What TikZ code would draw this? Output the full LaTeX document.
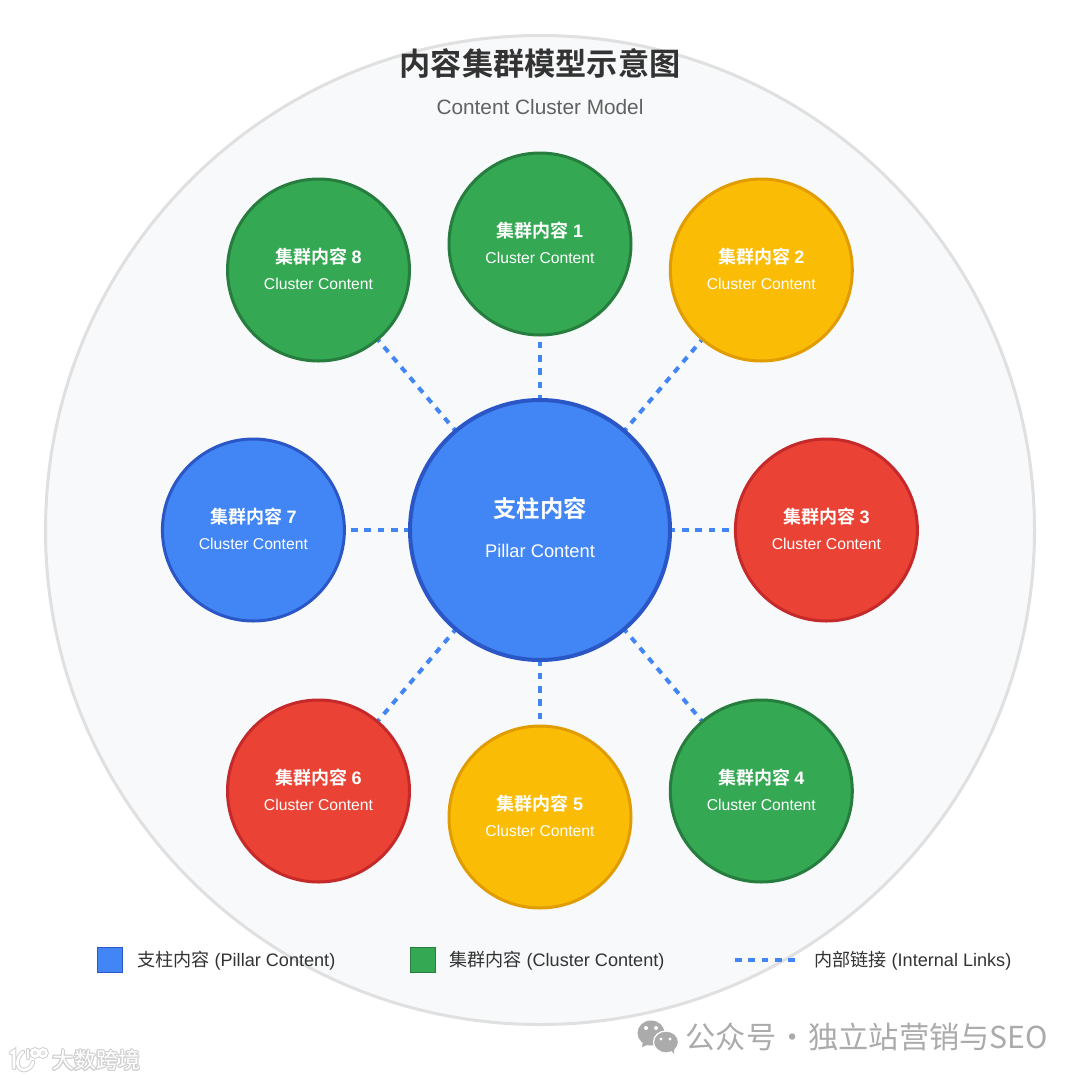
\documentclass[tikz,border=0pt]{standalone}
\usepackage{fontspec}
\usepackage[copies]{contour}
\setmainfont{Liberation Sans}
\newfontfamily\cjk[BoldFont={Noto Sans CJK SC Bold}]{Noto Sans CJK SC}
\newcommand{\zh}[1]{{\cjk #1}}
\newcommand{\zhb}[1]{{\cjk\bfseries #1}}
\newcommand{\pxfont}[2]{\fontsize{#1}{#2}\selectfont}
\definecolor{blueF}{HTML}{4285F4}\definecolor{blueS}{HTML}{2A56C6}
\definecolor{greenF}{HTML}{34A853}\definecolor{greenS}{HTML}{267D3E}
\definecolor{yellowF}{HTML}{FBBC05}\definecolor{yellowS}{HTML}{E09C00}
\definecolor{redF}{HTML}{EA4335}\definecolor{redS}{HTML}{C5292A}
\definecolor{halo}{HTML}{D2D2D2}\definecolor{wm}{HTML}{ABABAB}
\definecolor{ringF}{HTML}{F8F9FA}\definecolor{ringS}{HTML}{E0E0E0}
\tikzset{
  cluster/.style={circle,minimum size=182pt,inner sep=0pt,outer sep=0pt,line width=3pt,draw=#1S,fill=#1F,text=white,align=center,font=\pxfont{15.7}{26}},
  pillar/.style={circle,minimum size=260pt,inner sep=0pt,outer sep=0pt,line width=4pt,draw=blueS,fill=blueF,text=white,align=center,font=\pxfont{18.3}{40}},
  linkline/.style={draw=blueF,line width=4pt,dash pattern=on 6.67pt off 6.67pt},
  legendbox/.style={minimum size=25pt,inner sep=0pt,outer sep=0pt,line width=1.5pt,draw=#1S,fill=#1F},
  legendtext/.style={anchor=west,inner sep=0pt,text=black!80,font=\pxfont{18.1}{22}},
  logostroke/.style={line width=2.6pt,draw=white,line cap=round},
  logohalo/.style={line width=4.6pt,draw=halo,line cap=round}
}
\newcommand{\clabel}[1]{\zhb{\pxfont{18}{26}集群内容} {\pxfont{18}{26}\bfseries #1}\\Cluster Content\\[-24pt]}
\pgfdeclarelayer{bg}\pgfsetlayers{bg,main}
\begin{document}
\begin{tikzpicture}[x=1pt,y=-1pt]
\useasboundingbox (0,0) rectangle (1080,1080);
\begin{pgfonlayer}{bg}
\fill[white] (0,0) rectangle (1080,1080);
\draw[fill=ringF,draw=ringS,line width=3pt] (540,530) circle (494.5);
\end{pgfonlayer}
\node[text=black!80,font=\pxfont{31.2}{36}] (title) at (540,63.5) {\zhb{内容集群模型示意图}};
\node[text=black!62,font=\pxfont{20.8}{25}] (sub) at (540,107) {Content Cluster Model};
\node[pillar] (p) at (540,530) {\zhb{\pxfont{23.3}{40}支柱内容}\\Pillar Content\\[-34pt]};
\node[cluster=green] (c1) at (540,244) {\clabel{1}};
\node[cluster=yellow] (c2) at (761.3,270) {\clabel{2}};
\node[cluster=red] (c3) at (826.4,530) {\clabel{3}};
\node[cluster=green] (c4) at (761.3,791) {\clabel{4}};
\node[cluster=yellow] (c5) at (540,817) {\clabel{5}};
\node[cluster=red] (c6) at (318.5,791) {\clabel{6}};
\node[cluster=blue] (c7) at (253.4,530) {\clabel{7}};
\node[cluster=green] (c8) at (318.5,270) {\clabel{8}};
\begin{pgfonlayer}{bg}
\foreach \c/\ph in {c1/6.67,c2/3.33,c3/6.67,c4/3.33,c5/6.67,c6/3.33,c7/6.67,c8/3.33}{
  \draw[linkline,dash phase=\ph pt] (\c) -- (p);
}
\end{pgfonlayer}
\node[legendbox=blue] (lb1) at (110,960) {};
\node[legendtext] (lt1) at (137,961) {\zh{支柱内容} (Pillar Content)};
\node[legendbox=green] (lb2) at (423,960) {};
\node[legendtext] (lt2) at (449,961) {\zh{集群内容} (Cluster Content)};
\coordinate (la) at (735,960);
\coordinate (lz) at (796,960);
\draw[linkline] (la) -- (lz);
\node[legendtext] (lt3) at (814,961) {\zh{内部链接} (Internal Links)};
% watermark right
\fill[wm] (651,1033) ellipse (13.5 and 12.5);
\fill[wm] (643,1041) -- (642,1047) -- (650,1044) -- cycle;
\draw[white,line width=1.2pt,fill=wm] (666,1042) ellipse (12.5 and 11);
\fill[wm] (671,1050) -- (674,1054) -- (674,1047) -- cycle;
\fill[white] (646,1028) circle (2) (656,1028) circle (2) (661,1039) circle (1.6) (670,1039) circle (1.6);
\node[anchor=west,text=wm,font=\pxfont{30.2}{34},inner sep=0pt] (wmtext) at (685.5,1037) {\zh{公众号\kern1pt·\kern1pt独立站营销与SEO}};
% watermark left
\foreach \s in {logohalo,logostroke}{
  \draw[\s] (11,1053) -- (14,1051) -- (14,1068);
  \draw[\s] (23,1052) .. controls (15,1058) and (16,1070) .. (24,1070) .. controls (29,1070) and (32,1066) .. (33,1062);
  \draw[\s] (28,1050) -- (28,1058);
  \draw[\s] (35,1053) circle (3.5) (43,1053) circle (3.5);
}
\contourlength{1.1pt}
\node[anchor=west,inner sep=0pt,text=white,font=\pxfont{22}{26}] (wmleft) at (52,1061) {\contour{halo}{\zh{大数跨境}}};
\end{tikzpicture}
\end{document}
